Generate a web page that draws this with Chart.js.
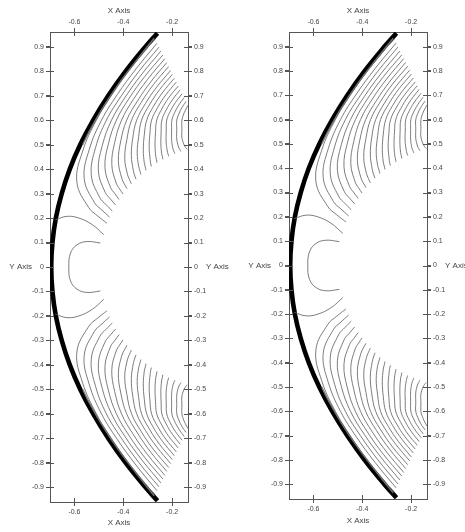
<!DOCTYPE html>
<html>
<head>
<meta charset="utf-8">
<script src="https://cdn.jsdelivr.net/npm/chart.js@4.4.1/dist/chart.umd.min.js"></script>
<style>
body { margin: 0; background: #fff; }
canvas { position: absolute; top: 0; }
#leftChart { left: 0; }
#rightChart { left: 232px; }
</style>
</head>
<body>
<canvas id="leftChart" width="232" height="532"></canvas>
<canvas id="rightChart" width="233" height="532"></canvas>
<script>
const xTicks = [-0.6, -0.4, -0.2];
const yTicks = [-0.9, -0.8, -0.7, -0.6, -0.5, -0.4, -0.3, -0.2, -0.1, 0, 0.1, 0.2, 0.3, 0.4, 0.5, 0.6, 0.7, 0.8, 0.9];
const xRange = [-0.7, -0.135];
const yRange = [-0.96, 0.96];

// shock front, upper half (mirrored below)
const shockY = [0, 0.1, 0.2, 0.3, 0.4, 0.5, 0.6, 0.7, 0.8, 0.9, 0.955];
const shockX = [-0.695, -0.690, -0.676, -0.652, -0.619, -0.576, -0.523, -0.461, -0.390, -0.309, -0.260];

// crowded contour hugging the shock near the top
const shockEdge = [[-0.2735, 0.935], [-0.3414, 0.850], [-0.4177, 0.750], [-0.4845, 0.650], [-0.5417, 0.550], [-0.566, 0.500]];

// contour near the nose and the small arc in front of the body
const noseLine = [[-0.678, 0.193], [-0.630, 0.207], [-0.582, 0.200], [-0.527, 0.173], [-0.480, 0.132]];
const innerArc = [[-0.494, 0.098], [-0.548, 0.104], [-0.589, 0.091], [-0.616, 0.057], [-0.623, 0]];

// contours of the upper flank, outflow edge -> body
const flankLines = [
    [[-0.270, 0.930], [-0.297, 0.900], [-0.378, 0.800], [-0.449, 0.700], [-0.510, 0.600], [-0.566, 0.474], [-0.590, 0.347], [-0.541, 0.242], [-0.504, 0.208], [-0.467, 0.179]],
    [[-0.262, 0.914], [-0.348, 0.809], [-0.424, 0.705], [-0.489, 0.600], [-0.539, 0.481], [-0.560, 0.362], [-0.518, 0.263], [-0.487, 0.232], [-0.456, 0.204]],
    [[-0.254, 0.898], [-0.336, 0.799], [-0.408, 0.699], [-0.469, 0.600], [-0.513, 0.489], [-0.531, 0.377], [-0.497, 0.285], [-0.471, 0.255], [-0.445, 0.229]],
    [[-0.246, 0.882], [-0.324, 0.788], [-0.392, 0.694], [-0.448, 0.600], [-0.486, 0.496], [-0.502, 0.392], [-0.474, 0.305], [-0.452, 0.277], [-0.431, 0.253]],
    [[-0.238, 0.866], [-0.313, 0.777], [-0.376, 0.689], [-0.428, 0.600], [-0.461, 0.503], [-0.475, 0.406], [-0.452, 0.325], [-0.434, 0.299], [-0.417, 0.276]],
    [[-0.230, 0.851], [-0.300, 0.767], [-0.359, 0.684], [-0.407, 0.600], [-0.435, 0.509], [-0.447, 0.419], [-0.429, 0.343], [-0.415, 0.319], [-0.401, 0.298]],
    [[-0.222, 0.835], [-0.287, 0.757], [-0.342, 0.678], [-0.386, 0.600], [-0.410, 0.516], [-0.420, 0.432], [-0.406, 0.362], [-0.396, 0.340], [-0.385, 0.320]],
    [[-0.214, 0.819], [-0.276, 0.746], [-0.326, 0.673], [-0.366, 0.600], [-0.385, 0.522], [-0.394, 0.444], [-0.383, 0.379], [-0.375, 0.358], [-0.367, 0.340]],
    [[-0.206, 0.803], [-0.263, 0.735], [-0.309, 0.668], [-0.345, 0.600], [-0.361, 0.528], [-0.367, 0.455], [-0.359, 0.395], [-0.354, 0.376], [-0.348, 0.359]],
    [[-0.199, 0.787], [-0.251, 0.725], [-0.293, 0.662], [-0.325, 0.600], [-0.337, 0.533], [-0.343, 0.467], [-0.337, 0.411], [-0.332, 0.394], [-0.328, 0.378]],
    [[-0.191, 0.771], [-0.238, 0.714], [-0.276, 0.657], [-0.304, 0.600], [-0.314, 0.539], [-0.318, 0.477], [-0.314, 0.426], [-0.310, 0.409], [-0.307, 0.395]],
    [[-0.183, 0.755], [-0.226, 0.703], [-0.259, 0.652], [-0.284, 0.600], [-0.291, 0.543], [-0.294, 0.487], [-0.290, 0.439], [-0.288, 0.424], [-0.285, 0.411]],
    [[-0.175, 0.739], [-0.213, 0.693], [-0.242, 0.646], [-0.263, 0.600], [-0.268, 0.548], [-0.270, 0.496], [-0.267, 0.452], [-0.264, 0.438], [-0.262, 0.426]],
    [[-0.167, 0.724], [-0.199, 0.683], [-0.2245, 0.641], [-0.242, 0.600], [-0.245, 0.552], [-0.246, 0.504], [-0.243, 0.464], [-0.240, 0.451], [-0.238, 0.440]],
    [[-0.159, 0.708], [-0.1865, 0.672], [-0.2075, 0.636], [-0.222, 0.600], [-0.224, 0.556], [-0.2245, 0.511], [-0.220, 0.474], [-0.217, 0.462], [-0.214, 0.452]],
    [[-0.151, 0.692], [-0.173, 0.661], [-0.1896, 0.631], [-0.201, 0.600], [-0.202, 0.559], [-0.202, 0.518], [-0.197, 0.484], [-0.193, 0.473], [-0.189, 0.463]],
    [[-0.143, 0.676], [-0.160, 0.651], [-0.1726, 0.625], [-0.181, 0.600], [-0.181, 0.562], [-0.181, 0.523], [-0.174, 0.491], [-0.169, 0.481], [-0.164, 0.472]],
    [[-0.135, 0.660], [-0.146, 0.640], [-0.1544, 0.620], [-0.160, 0.600], [-0.160, 0.564], [-0.160, 0.529], [-0.151, 0.499], [-0.145, 0.489], [-0.138, 0.481]]
];

const FONT = '"Liberation Sans", Arial, sans-serif';
const INK = '#444';

function toPts(list, flip) {
    return list.map(p => ({ x: p[0], y: flip ? -p[1] : p[1] }));
}

function buildDatasets() {
    const sets = [];
    const thin = (pts, color, width) => ({
        data: pts, showLine: true, borderColor: color || '#666', borderWidth: width || 0.85,
        pointRadius: 0, tension: 0.4, fill: false
    });

    flankLines.forEach(l => {
        sets.push(thin(toPts(l, false)));
        sets.push(thin(toPts(l, true)));
    });
    sets.push(thin(toPts(shockEdge, false), '#777', 1.3));
    sets.push(thin(toPts(shockEdge, true), '#777', 1.3));
    sets.push(thin(toPts(noseLine, false)));
    sets.push(thin(toPts(noseLine, true)));
    const arc = toPts(innerArc, false).concat(toPts(innerArc.slice(0, -1).reverse(), true));
    sets.push(thin(arc));

    const upper = shockY.map((y, i) => ({ x: shockX[i], y: y })).reverse();
    const lower = shockY.slice(1).map((y, i) => ({ x: shockX[i + 1], y: -y }));
    sets.push({ data: upper.concat(lower), showLine: true, borderColor: '#000', borderWidth: 4.6, pointRadius: 0, tension: 0.4, fill: false });
    return sets;
}

const frame = {
    id: 'frame',
    afterDraw(chart) {
        const { ctx, chartArea: a, scales } = chart;
        ctx.save();
        ctx.strokeStyle = '#555';
        ctx.lineWidth = 1;
        ctx.beginPath();
        xTicks.forEach(v => {
            const px = Math.round(scales.x.getPixelForValue(v)) + 0.5;
            ctx.moveTo(px, a.top - 4); ctx.lineTo(px, a.top + 4);
            ctx.moveTo(px, a.bottom - 4); ctx.lineTo(px, a.bottom + 4);
        });
        yTicks.forEach(v => {
            const py = Math.round(scales.y.getPixelForValue(v)) + 0.5;
            ctx.moveTo(a.left - 4, py); ctx.lineTo(a.left + 4, py);
            ctx.moveTo(a.right - 4, py); ctx.lineTo(a.right + 4, py);
        });
        ctx.stroke();
        ctx.fillStyle = INK;
        ctx.font = '8px ' + FONT;
        ctx.textBaseline = 'middle';
        const y0 = scales.y.getPixelForValue(0);
        ctx.textAlign = 'right';
        ctx.fillText('Y Axis', a.left - 18, y0);
        ctx.textAlign = 'left';
        ctx.fillText('Y Axis', a.right + 18, y0);
        ctx.restore();
    }
};

function axis(pos, ticks, range, size, titlePad) {
    const horizontal = pos === 'top' || pos === 'bottom';
    return {
        type: 'linear',
        position: pos,
        min: range[0],
        max: range[1],
        afterBuildTicks: s => { s.ticks = ticks.map(v => ({ value: v })); },
        afterFit: s => { if (horizontal) s.height = size; else s.width = size; },
        grid: { drawOnChartArea: false, tickLength: 4, color: '#555' },
        border: { display: true, color: '#555', width: 1 },
        ticks: {
            autoSkip: false,
            maxRotation: 0,
            padding: 2,
            color: INK,
            font: { family: FONT, size: 7 },
            callback: v => String(Math.round(v * 10) / 10)
        },
        title: horizontal
            ? { display: true, text: 'X Axis', color: INK, font: { family: FONT, size: 8 }, padding: titlePad }
            : { display: false }
    };
}

function makeChart(id, sizes) {
    new Chart(document.getElementById(id), {
        type: 'scatter',
        data: { datasets: buildDatasets() },
        options: {
            responsive: false,
            animation: false,
            layout: { padding: 0 },
            plugins: { legend: { display: false }, tooltip: { enabled: false } },
            scales: {
                x: axis('bottom', xTicks, xRange, sizes.bottom, { top: 0, bottom: sizes.titleBottom }),
                x2: axis('top', xTicks, xRange, sizes.top, { top: 5.5, bottom: 0 }),
                y: axis('left', yTicks, yRange, sizes.left),
                y2: axis('right', yTicks, yRange, sizes.right)
            }
        },
        plugins: [frame]
    });
}

makeChart('leftChart', { left: 50, right: 44, top: 32, bottom: 30, titleBottom: 4 });
makeChart('rightChart', { left: 57, right: 38, top: 32, bottom: 33, titleBottom: 6.5 });
</script>
</body>
</html>
